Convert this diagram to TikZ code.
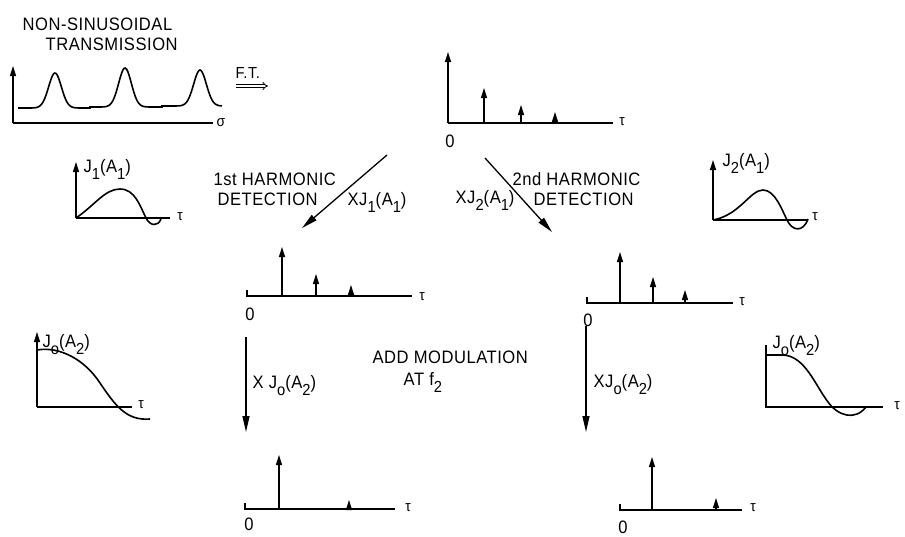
\documentclass[tikz,border=0pt]{standalone}
\usepackage{fontspec}
\setmainfont{Liberation Sans}[FakeStretch=0.92, LetterSpace=3]
\usetikzlibrary{arrows.meta}
\newcommand\lsub[1]{\raisebox{-0.42em}{\fontsize{16}{16}\selectfont #1}}
\begin{document}
\begin{tikzpicture}[x=1pt,y=-1pt, line width=1.3pt,
  lbl/.style={inner sep=0pt, anchor=base west, font=\fontsize{18}{21}\selectfont},
  sym/.style={inner sep=0pt, anchor=center, font=\fontsize{15}{17}\selectfont},
  zero/.style={inner sep=0pt, anchor=center, font=\fontsize{18}{21}\selectfont},
  spike/.style={-{Triangle[length=10pt,width=6pt]}, line width=1.4pt},
  bigarrow/.style={-{Triangle[length=16pt,width=7pt]}, line width=1.3pt},
  curve/.style={line width=1.6pt}]
\useasboundingbox (0,0) rectangle (905,536);

% ---------- top-left: non-sinusoidal transmission ----------
\node[lbl] (title1) at (22,30) {NON-SINUSOIDAL};
\node[lbl] (title2) at (45,50) {TRANSMISSION};
\coordinate (tlO) at (13,123);
\draw[spike] (tlO) -- (13,66);
\draw (tlO) -- (213,123);
\node[sym] (sigma) at (221,123) {σ};
\draw[curve] plot[domain=18:90, samples=60] (\x, {108 - 35*exp(-((\x-55)/9)^2)})
  -- plot[domain=90:162, samples=60] (\x, {107 - 39*exp(-((\x-125)/9)^2)})
  -- plot[domain=162:222, samples=50] (\x, {106 - 36*exp(-((\x-200)/9)^2)});
\node[lbl, font=\fontsize{16}{18}\selectfont] (ft) at (235,78) {F.T.};
\draw[line width=0.8pt, double, double distance=2pt, -{Implies}] (236,86) -- (268,86);

% ---------- top spectrum ----------
\coordinate (tsO) at (448,123);
\draw[spike] (tsO) -- (448,52);
\draw (tsO) -- (613,123);
\draw[spike] (484,123) -- (484,88);
\draw[spike] (521,123) -- (521,105);
\draw[spike] (555,123) -- (555,112);
\node[sym] (tau1) at (622,122) {τ};
\node[zero] (zero1) at (450,141) {0};

% ---------- J1 graph ----------
\node[lbl] (j1lbl) at (83,172) {J\lsub{1}(A\lsub{1})};
\coordinate (j1O) at (76,218);
\draw[spike] (j1O) -- (76,162);
\draw (j1O) -- (170,218);
\node[sym] (tau2) at (180,217) {τ};
\draw[curve] (j1O) .. controls (95,205) and (105,189) .. (120,189)
  .. controls (135,189) and (140,206) .. (146,218)
  .. controls (150,226) and (158,227) .. (161,219);

% ---------- J2 graph ----------
\node[lbl] (j2lbl) at (722,166) {J\lsub{2}(A\lsub{1})};
\coordinate (j2O) at (713,220);
\draw[spike] (j2O) -- (713,160);
\draw (j2O) -- (807,220);
\node[sym] (tau3) at (815,217) {τ};
\draw[curve] (j2O) .. controls (740,215) and (750,190) .. (763,190)
  .. controls (775,190) and (782,210) .. (787,220)
  .. controls (792,231) and (803,233) .. (808,219);

% ---------- harmonic detection ----------
\node[lbl] (h1a) at (213,185) {1st HARMONIC};
\node[lbl] (h1b) at (217,205) {DETECTION};
\node[lbl] (h2a) at (512,185) {2nd HARMONIC};
\node[lbl] (h2b) at (533,205) {DETECTION};
\node[lbl] (x1) at (347,205) {XJ\lsub{1}(A\lsub{1})};
\node[lbl] (x2) at (455,203) {XJ\lsub{2}(A\lsub{1})};
\coordinate (d1s) at (387,155);
\coordinate (d1e) at (302,228);
\coordinate (d2s) at (485,158);
\coordinate (d2e) at (552,232);
\draw[bigarrow] (d1s) -- (d1e);
\draw[bigarrow] (d2s) -- (d2e);

% ---------- middle-left spectrum ----------
\coordinate (mlO) at (247,296);
\draw (247,290) -- (mlO) -- (412,296);
\draw[spike] (282,296) -- (282,247);
\draw[spike] (316,296) -- (316,274);
\draw[spike] (351,296) -- (351,285);
\node[sym] (tau4) at (422,297) {τ};
\node[zero] (zero2) at (250,314) {0};

% ---------- middle-right spectrum ----------
\coordinate (mrO) at (587,303);
\draw (587,297) -- (mrO) -- (733,303);
\draw[spike] (620,303) -- (620,252);
\draw[spike] (653,303) -- (653,277);
\draw[spike] (685,303) -- (685,290);
\node[sym] (tau5) at (742,302) {τ};
\node[zero] (zero3) at (588,320) {0};

% ---------- left J0 graph ----------
\node[lbl] (j0lbl1) at (42,347) {J\lsub{o}(A\lsub{2})};
\coordinate (j0lO) at (37,407);
\draw[spike] (j0lO) -- (37,332);
\draw (j0lO) -- (132,407);
\node[sym] (tau6) at (141,405) {τ};
\draw[curve] (37,350) .. controls (60,346) and (85,360) .. (100,383)
  .. controls (115,405) and (126,421) .. (150,419);

% ---------- right J0 graph ----------
\node[lbl] (j0lbl2) at (772,348) {J\lsub{o}(A\lsub{2})};
\coordinate (j0rO) at (766,407);
\draw (766,345) -- (j0rO) -- (883,407);
\node[sym] (tau7) at (897,406) {τ};
\draw[curve] (766,355) -- (783,355) .. controls (805,356) and (815,385) .. (828,402)
  .. controls (838,416) and (855,421) .. (866,407);

% ---------- add modulation ----------
\node[lbl] (mod1) at (372,363) {ADD MODULATION};
\node[lbl] (mod2) at (403,385) {AT f\lsub{2}};
\node[lbl] (x3) at (252,388) {X J\lsub{o}(A\lsub{2})};
\node[lbl] (x4) at (593,387) {XJ\lsub{o}(A\lsub{2})};
\coordinate (v1s) at (246,337);
\coordinate (v1e) at (246,432);
\coordinate (v2s) at (586,326);
\coordinate (v2e) at (586,432);
\draw[bigarrow] (v1s) -- (v1e);
\draw[bigarrow] (v2s) -- (v2e);

% ---------- bottom-left spectrum ----------
\coordinate (blO) at (245,509);
\draw (245,503) -- (blO) -- (395,509);
\draw[spike] (279,509) -- (279,455);
\draw[spike] (349,509) -- (349,500);
\node[sym] (tau8) at (408,508) {τ};
\node[zero] (zero4) at (249,524) {0};

% ---------- bottom-right spectrum ----------
\coordinate (brO) at (620,510);
\draw (620,504) -- (brO) -- (742,510);
\draw[spike] (652,510) -- (652,457);
\draw[spike] (716,510) -- (716,498);
\node[sym] (tau9) at (753,508) {τ};
\node[zero] (zero5) at (623,527) {0};
\end{tikzpicture}
\end{document}
